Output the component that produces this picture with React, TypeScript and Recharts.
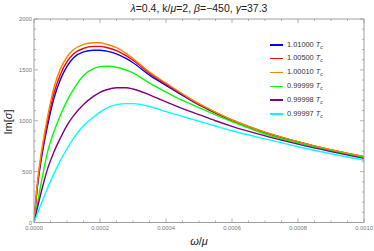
import { LineChart, Line, XAxis, YAxis } from 'recharts';

// omega/mu sample points
const omega = [0, 0.00001, 0.00002, 0.00003, 0.00004, 0.00006, 0.00008, 0.0001, 0.00012, 0.00015, 0.00018, 0.0002, 0.00022, 0.00025, 0.00028, 0.0003, 0.00035, 0.0004, 0.00045, 0.0005, 0.00055, 0.0006, 0.0007, 0.0008, 0.0009, 0.001];

// Im[sigma] for each temperature
const t101000 = [0, 340, 580, 770, 935, 1215, 1405, 1535, 1620, 1677, 1693, 1693, 1684, 1658, 1610, 1570, 1448, 1348, 1250, 1155, 1076, 1002, 884, 791, 711, 645];
const t100500 = [0, 360, 610, 800, 975, 1265, 1455, 1580, 1658, 1712, 1731, 1731, 1720, 1690, 1638, 1595, 1465, 1360, 1258, 1160, 1080, 1006, 886, 793, 713, 646];
const t100010 = [0, 380, 640, 840, 1020, 1320, 1510, 1628, 1700, 1750, 1767, 1766, 1752, 1718, 1660, 1612, 1478, 1370, 1265, 1168, 1085, 1010, 888, 795, 715, 648];
const t099999 = [0, 180, 360, 525, 680, 890, 1055, 1195, 1310, 1445, 1512, 1532, 1536, 1526, 1498, 1470, 1370, 1282, 1200, 1128, 1058, 992, 870, 782, 704, 640];
const t099998 = [0, 140, 275, 400, 515, 690, 830, 955, 1050, 1160, 1240, 1280, 1305, 1325, 1325, 1312, 1255, 1185, 1120, 1060, 1000, 945, 852, 770, 697, 630];
const t099997 = [0, 85, 170, 250, 330, 475, 610, 725, 830, 950, 1035, 1085, 1125, 1158, 1168, 1168, 1140, 1090, 1042, 995, 948, 902, 822, 745, 676, 614];

const series = [
  { key: 'a', label: '1.01000', color: '#0000ff', values: t101000 },
  { key: 'b', label: '1.00500', color: '#ff0000', values: t100500 },
  { key: 'c', label: '1.00010', color: '#ff8000', values: t100010 },
  { key: 'd', label: '0.99999', color: '#00ff00', values: t099999 },
  { key: 'e', label: '0.99998', color: '#800080', values: t099998 },
  { key: 'f', label: '0.99997', color: '#00ffff', values: t099997 },
];

const xMajor = [0, 0.0002, 0.0004, 0.0006, 0.0008, 0.001];
const yMajor = [0, 500, 1000, 1500, 2000];
const xTicks = Array.from({ length: 21 }, (_, i) => i * 0.00005);
const yTicks = Array.from({ length: 21 }, (_, i) => i * 100);

const data = omega.map((w, i) => {
  const row: any = { w };
  series.forEach((s) => (row[s.key] = s.values[i]));
  return row;
});

const FRAME = '#a0a0a0';
const FONT = '"Liberation Sans", Arial, sans-serif';

const isMajor = (list: number[], v: number) => list.some((m) => Math.abs(m - v) < 1e-9);

const makeTick = (side: 'bottom' | 'top' | 'left' | 'right') => (props: any) => {
  const { x, y, payload } = props;
  const v = payload.value;
  const major = side === 'bottom' || side === 'top' ? isMajor(xMajor, v) : isMajor(yMajor, v);
  const len = major ? 4 : 2;
  let line;
  if (side === 'bottom') line = <line x1={x} x2={x} y1={y} y2={y - len} stroke={FRAME} strokeWidth={0.8} />;
  else if (side === 'top') line = <line x1={x} x2={x} y1={y} y2={y + len} stroke={FRAME} strokeWidth={0.8} />;
  else if (side === 'left') line = <line x1={x} x2={x + len} y1={y} y2={y} stroke={FRAME} strokeWidth={0.8} />;
  else line = <line x1={x} x2={x - len} y1={y} y2={y} stroke={FRAME} strokeWidth={0.8} />;
  let label = null;
  if (major && side === 'bottom') {
    label = (
      <text x={x} y={y + 7.5} textAnchor="middle" fontSize={5.8} fill="#777" fontFamily={FONT}>
        {v.toFixed(4)}
      </text>
    );
  } else if (major && side === 'left') {
    label = (
      <text x={x - 2} y={y + 2} textAnchor="end" fontSize={5.8} fill="#777" fontFamily={FONT}>
        {v}
      </text>
    );
  }
  return (
    <g>
      {line}
      {label}
    </g>
  );
};

const axisCommon = {
  type: 'number' as const,
  interval: 0 as const,
  tickSize: 0,
  tickMargin: 0,
  axisLine: { stroke: FRAME },
  tickLine: false,
  allowDataOverflow: true,
};

export default function App() {
  return (
    <div style={{ position: 'absolute', left: 0, top: 0, width: 374, height: 251, background: '#fff', fontFamily: FONT }}>
      <LineChart width={374} height={251} data={data} margin={{ top: 18, right: 9, left: 33, bottom: 27.5 }}>
        <XAxis dataKey="w" domain={[0, 0.001]} ticks={xTicks} height={1} tick={makeTick('bottom')} {...axisCommon} />
        <XAxis
          xAxisId="top"
          orientation="top"
          dataKey="w"
          domain={[0, 0.001]}
          ticks={xTicks}
          height={1}
          tick={makeTick('top')}
          {...axisCommon}
        />
        <YAxis domain={[0, 2000]} ticks={yTicks} width={1} tick={makeTick('left')} {...axisCommon} />
        <YAxis
          yAxisId="right"
          orientation="right"
          domain={[0, 2000]}
          ticks={yTicks}
          width={1}
          tick={makeTick('right')}
          {...axisCommon}
        />
        {series.map((s) => (
          <Line
            key={s.key}
            dataKey={s.key}
            type="monotone"
            stroke={s.color}
            strokeWidth={1.4}
            dot={false}
            isAnimationActive={false}
          />
        ))}
      </LineChart>
      <div style={{ position: 'absolute', left: 34, width: 330, top: 2, textAlign: 'center', fontSize: 10.5, color: '#222' }}>
        <i>λ</i>=0.4, k/<i>μ</i>=2, <i>β</i>=−450, <i>γ</i>=37.3
      </div>
      <div
        style={{
          position: 'absolute',
          left: 8,
          top: 122,
          transform: 'translate(-50%, -50%) rotate(-90deg)',
          fontSize: 11,
          color: '#222',
          whiteSpace: 'nowrap',
        }}
      >
        Im[<i>σ</i>]
      </div>
      <div style={{ position: 'absolute', left: 34, width: 330, top: 235, textAlign: 'center', fontSize: 11, color: '#222' }}>
        <i>ω</i>/<i>μ</i>
      </div>
      <div style={{ position: 'absolute', left: 270, top: 38, fontSize: 7.4, color: '#333' }}>
        {series.map((s) => (
          <div key={s.key} style={{ display: 'flex', alignItems: 'center', height: 13.8 }}>
            <div style={{ width: 13, height: 1.5, background: s.color, marginRight: 4 }} />
            <span>
              {s.label} <i>T</i>
              <sub style={{ fontSize: 5, fontStyle: 'italic' }}>c</sub>
            </span>
          </div>
        ))}
      </div>
    </div>
  );
}
